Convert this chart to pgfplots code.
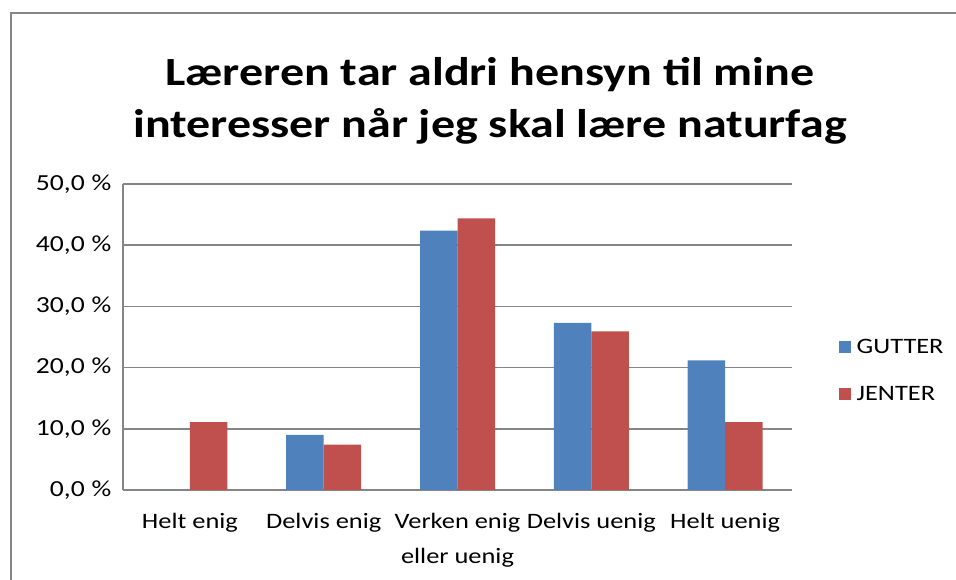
\documentclass[border=0pt]{standalone}
\usepackage{pgfplots}
\pgfplotsset{compat=1.18}
\usepackage{fontspec}
\setmainfont{Carlito}[FakeStretch=1.2]
\definecolor{gutter}{HTML}{4F81BD}
\definecolor{jenter}{HTML}{C0504D}
\definecolor{gridgray}{HTML}{868686}
\newcommand{\pc}{\hspace{7pt}\%}
\begin{document}
\begin{tikzpicture}[x=1pt,y=1pt]
\useasboundingbox (0,0) rectangle (956,580);
\draw[gridgray,line width=1.2pt] (11,-5) -- (11,567) -- (961,567);
\node[font=\fontsize{40}{52}\selectfont\bfseries,align=center] at (490,479) {Læreren tar aldri hensyn til mine\\interesser når jeg skal lære naturfag};
\begin{axis}[
  at={(189.9pt,90pt)}, anchor=origin,
  scale only axis, width=669pt, height=306pt,
  xmin=-0.5, xmax=4.5, ymin=0, ymax=50,
  ybar=0pt, bar width=37.5pt,
  axis x line*=bottom, axis y line*=left,
  axis line style={gridgray,line width=1.5pt},
  x axis line style={-}, y axis line style={-},
  ymajorgrids, grid style={gridgray,line width=1.5pt},
  major tick length=0pt,
  xtick=data,
  xticklabels={Helt enig,Delvis enig,{Verken enig\\eller uenig},Delvis uenig,Helt uenig},
  xticklabel style={align=center,font=\fontsize{22}{35}\selectfont,yshift=-20pt},
  ytick={0,10,20,30,40,50},
  yticklabels={{0,0\pc},{10,0\pc},{20,0\pc},{30,0\pc},{40,0\pc},{50,0\pc}},
  yticklabel style={font=\fontsize{23}{26}\selectfont,xshift=-8pt},
  legend style={at={(1.065,0.39)},anchor=west,draw=none,fill=none,
    font=\fontsize{22}{26}\selectfont,row sep=27pt},
  legend cell align=left,
  legend image code/.code={\fill[#1] (0pt,-6pt) rectangle (12pt,6pt);\path (0pt,0pt) rectangle (16pt,0pt);},
]
\addplot[fill=gutter,draw=none] coordinates {(0,0) (1,9.0) (2,42.4) (3,27.3) (4,21.2)};
\addplot[fill=jenter,draw=none] coordinates {(0,11.1) (1,7.4) (2,44.4) (3,25.9) (4,11.1)};
\legend{GUTTER,JENTER}
\end{axis}
\end{tikzpicture}
\end{document}
